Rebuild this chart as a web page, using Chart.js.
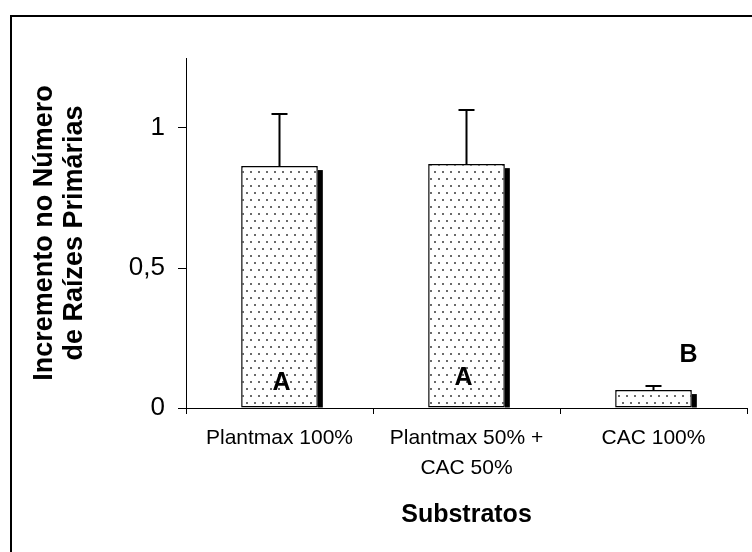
<!DOCTYPE html>
<html><head><meta charset="utf-8">
<script src="https://cdn.jsdelivr.net/npm/chart.js@4"></script>
<style>
html,body{margin:0;padding:0;background:#fff;overflow:hidden;width:752px;height:552px;}
#frame{position:absolute;left:10px;top:15px;width:800px;height:600px;border:2px solid #000;box-sizing:border-box;}
canvas{position:absolute;left:0;top:0;}
</style></head><body>
<div id="frame"></div>
<canvas id="c" width="752" height="552"></canvas>
<script>
// ---- data ----
const categories = ['Plantmax 100%', ['Plantmax 50% +', 'CAC 50%'], 'CAC 100%'];
const means = [0.864, 0.871, 0.064];
const errors = [0.186, 0.193, 0.015];
const letters = ['A', 'A', 'B'];
const yTicks = [0, 0.5, 1];
const yTickLabels = ['0', '0,5', '1'];
const yTitle = ['Incremento no Número', 'de Raízes Primárias'];
const xTitle = 'Substratos';

const FONT = "'Liberation Sans', Arial, sans-serif";
const canvas = document.getElementById('c');
const ctx0 = canvas.getContext('2d');

function makePattern() {
  const p = document.createElement('canvas');
  p.width = 8; p.height = 14;
  const g = p.getContext('2d');
  g.fillStyle = '#fff'; g.fillRect(0, 0, 8, 14);
  g.fillStyle = '#6a6a6a';
  g.fillRect(2, 3, 2, 2);
  g.fillRect(6, 10, 2, 2);
  return ctx0.createPattern(p, 'repeat');
}

const shadowPlugin = {
  id: 'shadow',
  beforeDatasetsDraw(chart) {
    const meta = chart.getDatasetMeta(0);
    const ctx = chart.ctx;
    ctx.save();
    ctx.fillStyle = '#000';
    meta.data.forEach(b => {
      const p = b.getProps(['x', 'y', 'base', 'width'], true);
      ctx.fillRect(p.x + p.width / 2, p.y + 4, 5, p.base - p.y - 4);
    });
    ctx.restore();
  }
};

const errPlugin = {
  id: 'errbars',
  afterDatasetsDraw(chart, args, opts) {
    const meta = chart.getDatasetMeta(0);
    const ys = chart.scales.y;
    const ctx = chart.ctx;
    ctx.save();
    ctx.strokeStyle = '#000';
    ctx.lineWidth = 2;
    meta.data.forEach((b, i) => {
      const p = b.getProps(['x', 'y'], true);
      const top = ys.getPixelForValue(means[i] + errors[i]);
      ctx.beginPath();
      ctx.moveTo(p.x, p.y);
      ctx.lineTo(p.x, top);
      ctx.moveTo(p.x - 8, top);
      ctx.lineTo(p.x + 8, top);
      ctx.stroke();
    });
    // letters
    ctx.fillStyle = '#000';
    ctx.font = 'bold 25px ' + FONT;
    ctx.textAlign = 'center';
    ctx.textBaseline = 'middle';
    const base = ys.getPixelForValue(0);
    meta.data.forEach((b, i) => {
      const p = b.getProps(['x'], true);
      const o = opts.offsets[i];
      ctx.fillText(letters[i], p.x + o.dx, base + o.dy);
    });
    ctx.restore();
  }
};

new Chart(canvas, {
  type: 'bar',
  data: {
    labels: categories,
    datasets: [{
      data: means,
      backgroundColor: makePattern(),
      borderColor: '#000',
      borderWidth: 1.5,
      borderSkipped: false,
      categoryPercentage: 1,
      barPercentage: 0.41
    }]
  },
  plugins: [shadowPlugin, errPlugin],
  options: {
    responsive: false,
    animation: false,
    devicePixelRatio: 1,
    layout: { padding: { left: 15, top: 58, right: 5, bottom: 0 } },
    plugins: {
      legend: { display: false },
      tooltip: { enabled: false },
      errbars: { offsets: [{ dx: 2, dy: -25 }, { dx: -3, dy: -30 }, { dx: 35, dy: -53 }] }
    },
    scales: {
      x: {
        afterFit(s) { s.height = 144; },
        grid: { display: true, offset: true, drawOnChartArea: false, color: '#000', tickLength: 6, tickWidth: 1 },
        border: { display: true, color: '#000', width: 1 },
        ticks: { color: '#000', font: { family: FONT, size: 21, lineHeight: 30 / 21 }, padding: 9, maxRotation: 0, autoSkip: false },
        title: { display: true, text: xTitle, color: '#000', font: { family: FONT, size: 25, weight: 'bold', lineHeight: 1.2 }, padding: { top: 0, bottom: 22 } }
      },
      y: {
        min: 0, max: 1.25,
        afterFit(s) { s.width = 171; },
        afterBuildTicks(s) { s.ticks = yTicks.map(v => ({ value: v })); },
        grid: { display: true, drawOnChartArea: false, color: '#000', tickLength: 8, tickWidth: 1 },
        border: { display: true, color: '#000', width: 1 },
        ticks: { color: '#000', font: { family: FONT, size: 26 }, padding: 13, callback: (v) => yTickLabels[yTicks.indexOf(v)] },
        title: { display: true, text: yTitle, color: '#000', font: { family: FONT, size: 27, weight: 'bold', lineHeight: 30 / 27 }, padding: { top: 15, bottom: 0 } }
      }
    }
  }
});
</script>
</body></html>
